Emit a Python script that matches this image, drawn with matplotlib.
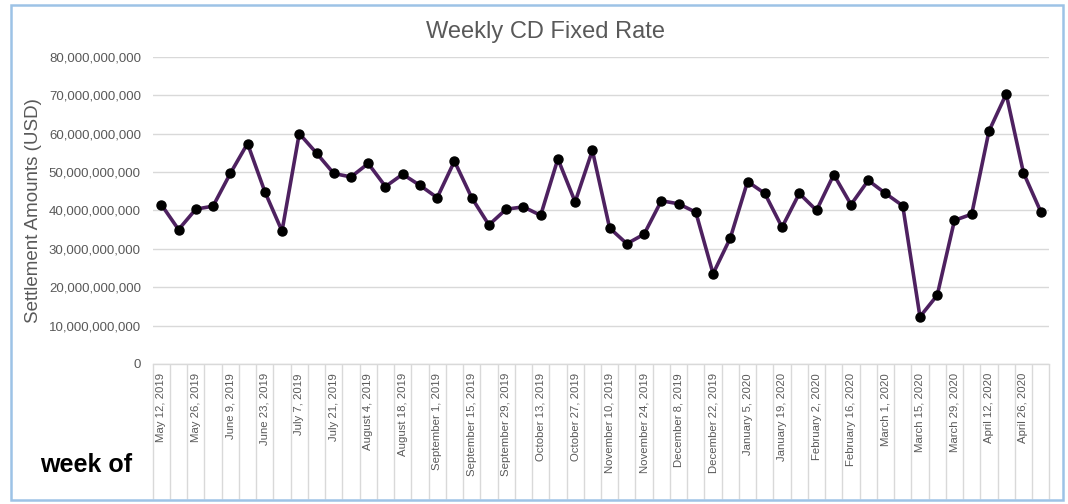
import matplotlib

matplotlib.use("Agg")
import matplotlib.pyplot as plt
import matplotlib.patches as patches
from matplotlib.ticker import FuncFormatter, FixedLocator

# weekly settlement amounts, billions USD (week of May 12, 2019 .. May 3, 2020)
settlement_bn = [41.5, 35.0, 40.3, 41.1, 49.6, 57.4, 44.9, 34.6, 60.0, 54.9,
                 49.6, 48.7, 52.2, 46.2, 49.4, 46.5, 43.3, 52.8, 43.3, 36.2,
                 40.3, 40.9, 38.7, 53.4, 42.2, 55.6, 35.4, 31.3, 33.8, 42.5,
                 41.7, 39.5, 23.5, 32.8, 47.5, 44.4, 35.6, 44.4, 40.0, 49.3,
                 41.5, 47.8, 44.4, 41.2, 12.3, 17.9, 37.4, 39.0, 60.6, 70.3,
                 49.8, 39.7]

# every second week is labelled
week_labels = ["May 12, 2019", "May 26, 2019", "June 9, 2019", "June 23, 2019",
               "July 7, 2019", "July 21, 2019", "August 4, 2019", "August 18, 2019",
               "September 1, 2019", "September 15, 2019", "September 29, 2019",
               "October 13, 2019", "October 27, 2019", "November 10, 2019",
               "November 24, 2019", "December 8, 2019", "December 22, 2019",
               "January 5, 2020", "January 19, 2020", "February 2, 2020",
               "February 16, 2020", "March 1, 2020", "March 15, 2020",
               "March 29, 2020", "April 12, 2020", "April 26, 2020"]

y_ticks = [0, 10e9, 20e9, 30e9, 40e9, 50e9, 60e9, 70e9, 80e9]

W, H = 1068, 504
fig = plt.figure(figsize=(W / 100, H / 100), dpi=100)
ax = fig.add_axes([152.7 / W, 1 - 364 / H, (1049.3 - 152.7) / W, (364 - 56.7) / H])

sans = ["Liberation Sans", "DejaVu Sans"]
grey_txt = "#595959"
grid_col = "#D9D9D9"

x = list(range(len(settlement_bn)))
y = [v * 1e9 for v in settlement_bn]
ax.plot(x, y, color="#4E2160", linewidth=2.6, marker="o", markersize=6.5,
        markerfacecolor="black", markeredgecolor="black", zorder=3)

ax.set_xlim(-0.5, len(x) - 0.5)
ax.set_ylim(0, 80e9)
ax.set_yticks(y_ticks)
ax.yaxis.set_major_formatter(FuncFormatter(lambda v, p: f"{v:,.0f}"))
ax.grid(axis="y", color=grid_col, linewidth=1)
ax.set_axisbelow(True)

ax.xaxis.set_major_locator(FixedLocator(list(range(0, len(x), 2))))
ax.set_xticklabels(week_labels, rotation=90, ha="center", va="top",
                   fontsize=8.2, color=grey_txt, family=sans)
ax.xaxis.set_minor_locator(FixedLocator([i - 0.5 for i in range(len(x) + 1)]))
ax.tick_params(axis="x", which="major", length=0, pad=6.5)
ax.tick_params(axis="x", which="minor", length=97, color=grid_col, width=1)
ax.tick_params(axis="y", length=0, pad=8.5, labelsize=9.5, labelcolor=grey_txt)
for lab in ax.get_yticklabels():
    lab.set_family(sans)

for s in ["top", "right", "left"]:
    ax.spines[s].set_visible(False)
ax.spines["bottom"].set_color(grid_col)
ax.spines["bottom"].set_linewidth(1)

ax.set_ylabel("Settlement Amounts (USD)", fontsize=13.5, color=grey_txt, family=sans)
ax.yaxis.set_label_coords(-(152.7 - 42) / (1049.3 - 152.7), 0.5)

fig.text(545 / W, 1 - 32 / H, "Weekly CD Fixed Rate", ha="center", va="center",
         fontsize=17, color=grey_txt, family=sans)
fig.text(86 / W, 1 - 465 / H, "week of", ha="center", va="center",
         fontsize=18, fontweight="bold", color="black", family=sans)

# outer chart border
fig.patches.append(patches.Rectangle((11 / W, 1 - 500 / H), (1063 - 11) / W, (500 - 5) / H,
                                     transform=fig.transFigure, fill=False,
                                     edgecolor="#9DC3E6", linewidth=1.8))

fig.savefig("out.png", dpi=100)
